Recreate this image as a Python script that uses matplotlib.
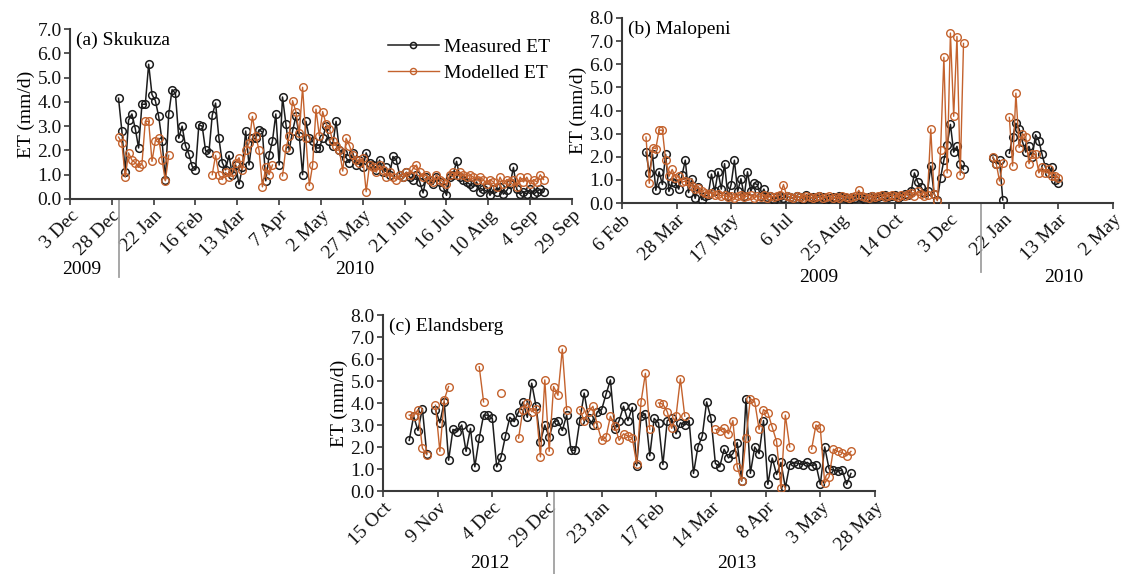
import numpy as np
import pandas as pd
import matplotlib
matplotlib.use("Agg")
import matplotlib.pyplot as plt
import matplotlib.transforms as mtransforms

nan = np.nan

# ---------------- data ----------------
# (a) Skukuza: every 2nd day from 1 Jan 2010
a_start, a_step = "2010-01-01", 2
a_measured = [
    4.15, 2.8, 1.1, 3.25, 3.5, 2.9, 2.1, 3.9, 3.9, 5.55, 4.3, 4.05, 3.4, 2.4, 0.78, 3.5,
    4.5, 4.35, 2.5, 3.0, 2.2, 1.85, 1.35, 1.2, 3.05, 3.0, 2.0, 1.9, 3.45, 3.95,
    2.5, 1.5, 1.2, 1.8, 1.0, 1.4, 0.6, 1.3, 2.8, 1.4, 2.5, 2.5, 2.85, 2.75, 0.75,
    1.8, 2.4, 3.5, 1.4, 4.2, 3.1, 2.0, 2.8, 3.4, 2.6, 1.0, 3.2, 2.5, 2.4, 2.1,
    2.1, 2.5, 3.0, 2.4, 2.2, 3.2, 2.0, 1.9, 1.7, 1.5, 1.9, 1.4, 1.6, 1.3, 1.9, 1.5,
    1.4, 1.2, 1.6, 1.1, 1.3, 1.0, 1.75, 1.6, 1.0, 0.9, 1.1, 0.9, 0.8, 1.0, 0.7,
    0.25, 0.9, 0.8, 0.6, 0.9, 0.7, 0.5, 0.15, 0.9, 1.0, 1.55, 0.9, 0.8, 0.7, 0.6,
    0.5, 0.7, 0.3, 0.4, 0.5, 0.15, 0.4, 0.3, 0.5, 0.2, 0.35, 0.6, 1.3, 0.4, 0.2, 0.3,
    0.2, 0.4, 0.2, 0.3, 0.4, 0.3,
]
a_modelled = [
    2.55, 2.3, 0.9, 1.9, 1.6, 1.5, 1.3, 1.45, 3.2, 3.2, 1.55, 2.4, 2.5, 1.6, 0.75, 1.8,
    nan, nan, nan, nan, nan, nan, nan, nan, nan, nan, nan, nan, 1.0, 1.8,
    1.0, 0.8, 1.1, 0.9, 1.1, 1.5, 1.7, 1.2, 2.0, 2.3, 3.4, 2.6, 2.0, 0.5, 1.3,
    1.0, 1.4, nan, nan, 0.95, 2.1, 2.6, 4.05, 3.6, 2.7, 4.6, 2.5, 0.55, 1.4, 3.7,
    2.6, 3.6, 3.1, 2.9, 2.4, 2.2, 2.0, 1.15, 2.5, 2.2, 1.8, 1.6, 1.5, 1.7, 0.3, 1.4,
    1.3, 1.1, 1.4, 1.2, 0.9, 1.1, 0.9, 0.8, 1.0, 0.9, 1.1, 1.0, 1.25, 1.4, 1.1,
    0.9, 1.0, 0.8, 0.7, 1.0, 0.8, 0.7, 0.6, 1.0, 1.1, 1.0, 1.1, 1.0, 0.9, 1.0,
    0.9, 0.8, 0.9, 0.8, 0.6, 0.8, 0.7, 0.5, 0.9, 0.6, 0.8, 0.7, 0.8, 0.5, 0.9, 0.7,
    0.9, 0.6, 0.8, 0.7, 1.0, 0.8,
]

# (b) Malopeni: every 3rd day from 28 Feb 2009
b_start, b_step = "2009-02-28", 3
b_measured = [
    2.2, 1.3, 2.1, 0.55, 1.35, 0.8, 2.1, 0.5, 0.9, 0.85,
    0.6, 1.2, 1.85, 0.45, 1.05, 0.2, 0.7, 0.15, 0.3, 0.35,
    1.25, 0.5, 1.35, 0.6, 1.7, 0.3, 0.8, 1.85, 0.5, 1.05,
    0.3, 1.35, 0.5, 0.85, 0.8, 0.3, 0.6, 0.25, 0.3, 0.15,
    0.25, 0.3, 0.2, 0.3, 0.25, 0.2, 0.3, 0.25, 0.15, 0.35,
    0.2, 0.25, 0.2, 0.3, 0.25, 0.15, 0.2, 0.25, 0.2, 0.3,
    0.25, 0.2, 0.15, 0.25, 0.2, 0.3, 0.2, 0.15, 0.25, 0.3,
    0.2, 0.25, 0.3, 0.35, 0.25, 0.3, 0.35, 0.2, 0.3, 0.4,
    0.35, 0.5, 1.3, 0.9, 0.7, 0.45, 0.5, 1.6, 0.4, 0.13,
    1.1, 1.85, 2.5, 3.4, 2.2, 2.45, 1.7, 1.45, nan, nan,
    nan, nan, nan, nan, nan, nan, 1.95, 1.7, 1.85, 0.13,
    nan, 2.15, 2.85, 3.45, 3.2, 2.65, 2.2, 2.45, 2.0, 2.95,
    2.7, 2.1, 1.55, 1.3, 1.55, 1.0, 0.85,
]
b_modelled = [
    2.85, 0.85, 2.4, 2.35, 3.15, 3.15, 1.85, 1.15, 1.45, 1.1,
    1.15, 0.9, 0.95, 0.9, 0.75, 0.6, 0.65, 0.5, 0.45, 0.4,
    0.45, 0.35, 0.4, 0.3, 0.35, 0.25, 0.3, 0.2, 0.3, 0.35,
    0.25, 0.3, 0.35, 0.2, 0.3, 0.25, 0.35, 0.2, 0.3, 0.25,
    0.3, 0.35, 0.8, 0.3, 0.25, 0.2, 0.3, 0.25, 0.2, 0.3,
    0.25, 0.2, 0.25, 0.3, 0.2, 0.25, 0.3, 0.2, 0.25, 0.2,
    0.3, 0.25, 0.2, 0.25, 0.3, 0.55, 0.3, 0.25, 0.2, 0.3,
    0.25, 0.3, 0.35, 0.25, 0.3, 0.35, 0.3, 0.25, 0.35, 0.3,
    0.4, 0.45, 0.3, 0.5, 0.4, 0.3, 0.35, 3.2, 0.4, 0.1,
    2.3, 6.3, 1.3, 7.35, 3.75, 7.2, 1.2, 6.9, nan, nan,
    nan, nan, nan, nan, nan, nan, 2.0, 1.7, 0.95, 1.75,
    nan, 3.7, 1.6, 4.75, 2.4, 3.0, 2.85, 1.7, 2.1, 2.1,
    1.3, 1.55, 1.3, 1.45, 1.15, 1.15, 1.1,
]

# (c) Elandsberg: every 2nd day from 27 Oct 2012
c_start, c_step = "2012-10-27", 2
c_measured = [
    2.3, 3.4, 2.75, 3.75, 1.7, nan, 3.7, 3.1, 4.05, 1.4,
    2.8, 2.7, 3.0, 1.8, 2.85, 1.1, 2.4, 3.45, 3.45, 3.3,
    1.1, 1.55, 2.5, 3.35, 3.15, 3.6, 4.05, 3.35, 4.9, 3.85,
    2.25, 3.0, 2.45, 3.15, 3.2, 2.75, 3.45, 1.85, 1.85, 3.2,
    4.45, 3.3, 3.0, 3.6, 3.7, 4.4, 5.05, 2.8, 3.2, 3.85,
    3.2, 3.8, 1.15, 3.4, 3.5, 1.6, 3.3, 3.1, 1.2, 3.2,
    3.3, 2.6, 3.1, 3.0, 3.2, 0.8, 2.0, 2.5, 4.05, 3.3,
    1.25, 1.1, 1.9, 1.5, 1.7, 2.2, 0.45, 4.2, 0.8, 2.0,
    1.7, 3.2, 0.3, 1.5, 0.75, 1.3, 0.15, 1.2, 1.3, 1.25,
    1.2, 1.3, 1.15, 1.2, 0.3, 2.0, 1.0, 0.95, 0.9, 0.95,
    0.3, 0.8,
]
c_modelled = [
    3.45, 3.4, 3.7, 1.95, 1.65, nan, 3.9, 1.8, 4.15, 4.75,
    nan, nan, nan, nan, nan, nan, 5.65, 4.05, nan, nan,
    nan, 4.45, nan, nan, nan, 2.4, 3.7, 4.0, 3.6, 3.75,
    1.55, 5.05, 1.8, 4.75, 4.35, 6.45, 3.7, nan, nan, 3.7,
    3.2, 3.6, 3.85, 3.0, 2.3, 2.45, 3.4, 2.95, 2.3, 2.6,
    2.5, 2.4, 1.25, 4.05, 5.35, 2.8, nan, 4.0, 3.95, 3.6,
    2.85, 3.4, 5.1, 3.4, nan, nan, nan, nan, nan, nan,
    2.8, 2.75, 2.85, 2.6, 3.2, 1.1, 0.45, 2.4, 4.2, 4.05,
    2.8, 3.7, 3.55, 2.9, 2.25, 0.12, 3.45, 2.0, nan, nan,
    nan, nan, 1.9, 3.0, 2.85, 0.35, 0.65, 1.9, 1.8, 1.75,
    1.6, 1.8,
]

# axes ticks (start, end, interval in days) and year labels
a_ticks = ("2009-12-03", "2010-09-29", 25)
b_ticks = ("2009-02-06", "2010-05-02", 50)
c_ticks = ("2012-10-15", "2013-05-28", 25)
a_years = [("2009", "2009-12-10"), ("2010", "2010-05-22")]
b_years = [("2009", "2009-08-05"), ("2010", "2010-03-18")]
c_years = [("2012", "2012-12-03"), ("2013", "2013-03-26")]
a_split, b_split, c_split = "2010-01-01", "2010-01-01", "2013-01-01"
titles = ["(a) Skukuza", "(b) Malopeni", "(c) Elandsberg"]
ymax = [7, 8, 8]

# ---------------- style ----------------
plt.rcParams["font.family"] = ["Liberation Serif", "DejaVu Serif"]
FS = 14
BLACK = "#1c1c1c"
ORANGE = "#c4622d"
SPINE = "#3a3a3a"

W, H = 1132, 574
fig = plt.figure(figsize=(W / 100, H / 100), dpi=100)


def px_axes(l, t, r, b):
    return fig.add_axes([l / W, 1 - b / H, (r - l) / W, (b - t) / H])


axa = px_axes(70, 29, 572, 199)
axb = px_axes(622, 18, 1113, 203)
axc = px_axes(383, 315, 875, 491)

# (axes, start, step, measured, modelled, ticks, years, split, line bottom px, year text px)
panels = [
    (axa, a_start, a_step, a_measured, a_modelled, a_ticks, a_years, a_split, 277, 270),
    (axb, b_start, b_step, b_measured, b_modelled, b_ticks, b_years, b_split, 272, 277),
    (axc, c_start, c_step, c_measured, c_modelled, c_ticks, c_years, c_split, 574, 563),
]
boxes = [(29, 199), (18, 203), (315, 491)]

for k, (ax, st, step, meas, mod, ticks, years, split, lb, yt) in enumerate(panels):
    top, bot = boxes[k]
    hpx = bot - top
    d_meas = pd.date_range(st, periods=len(meas), freq=f"{step}D")
    d_mod = pd.date_range(st, periods=len(mod), freq=f"{step}D")
    ax.plot(d_meas, meas, color=BLACK, lw=1.1, marker="o", ms=5.5, mfc="none",
            mec=BLACK, mew=1.1, label="Measured ET", zorder=3)
    ax.plot(d_mod, mod, color=ORANGE, lw=1.0, marker="o", ms=5.5, mfc="none",
            mec=ORANGE, mew=1.0, label="Modelled ET", zorder=4)

    t0, t1, iv = ticks
    tk = pd.date_range(t0, t1, freq=f"{iv}D")
    ax.set_xlim(pd.Timestamp(t0), pd.Timestamp(t1))
    ax.set_xticks(tk)
    ax.set_xticklabels([f"{t.day} {t.strftime('%b')}" for t in tk], rotation=45,
                       ha="right", rotation_mode="anchor", fontsize=FS)
    ax.set_ylim(0, ymax[k])
    yt_vals = np.arange(0, ymax[k] + 0.5, 1.0)
    ax.set_yticks(yt_vals)
    ax.set_yticklabels([f"{v:.1f}" for v in yt_vals], fontsize=FS)
    ax.set_ylabel("ET (mm/d)", fontsize=FS, labelpad=2)
    for s in ["top", "right"]:
        ax.spines[s].set_visible(False)
    for s in ["left", "bottom"]:
        ax.spines[s].set_color(SPINE)
        ax.spines[s].set_linewidth(1.5)
    ax.tick_params(axis="both", direction="out", length=4, width=1.2, color=SPINE,
                   pad=2, labelcolor="#111111")
    ax.patch.set_alpha(0)

    ax.text(0.012, 0.985, titles[k], transform=ax.transAxes, fontsize=FS,
            va="top", ha="left")

    trans = mtransforms.blended_transform_factory(ax.transData, ax.transAxes)
    ax.plot([pd.Timestamp(split)] * 2, [0, -(lb - bot) / hpx], transform=trans,
            color="#a0a0a0", lw=1.3, clip_on=False)
    for lab, xd in years:
        ax.text(pd.Timestamp(xd), -(yt - bot) / hpx, lab, transform=trans, fontsize=FS,
                ha="center", va="center")

leg = axa.legend(loc="upper left", bbox_to_anchor=(388 / W, 1 - 38 / H),
                 bbox_transform=fig.transFigure, frameon=False, fontsize=FS,
                 handlelength=2.6, handletextpad=0.3, labelspacing=0.45,
                 borderpad=0, borderaxespad=0, markerscale=0.8)

fig.savefig("out.png", dpi=100)
